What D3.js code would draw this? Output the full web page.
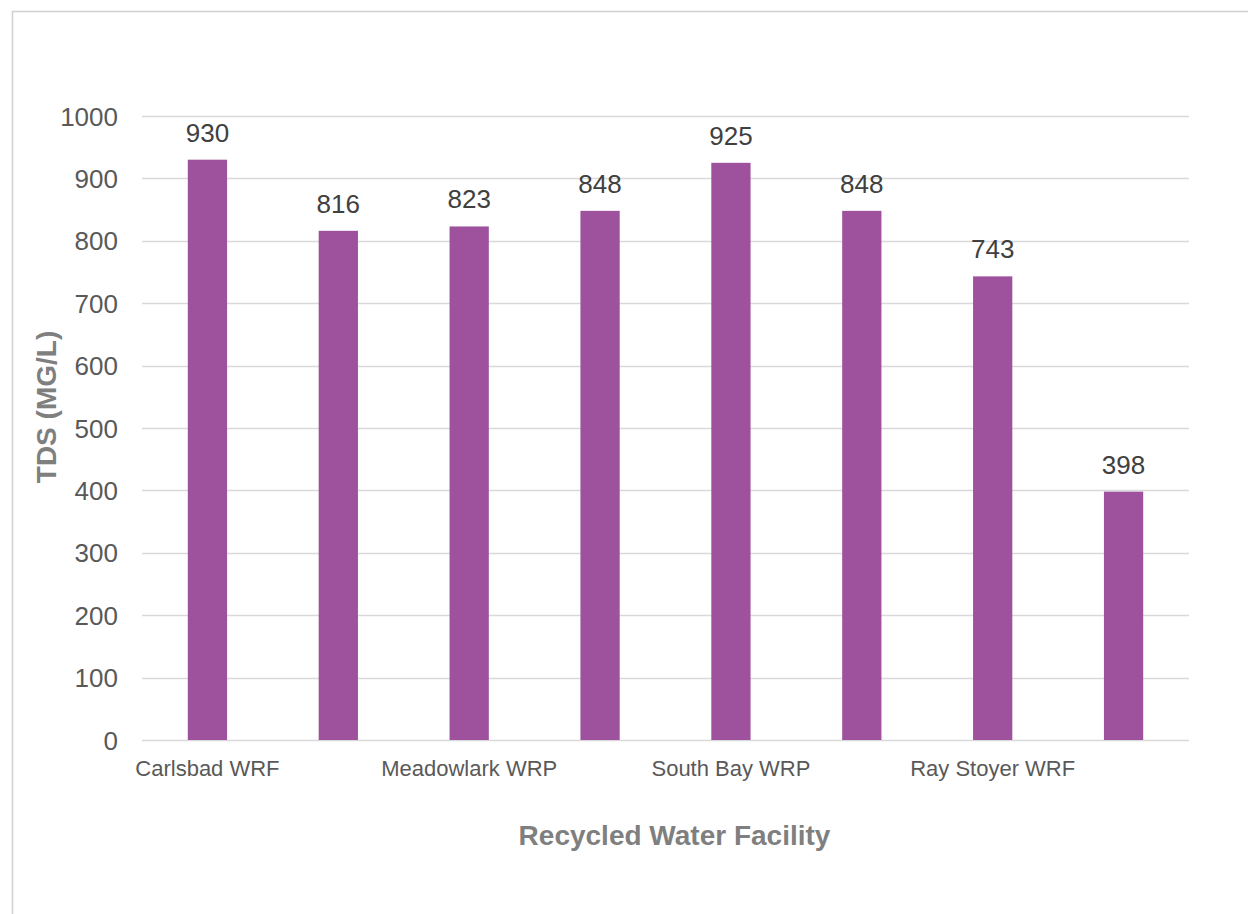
<!DOCTYPE html>
<html>
<head>
<meta charset="utf-8">
<script src="https://cdn.jsdelivr.net/npm/d3@7"></script>
<style>
  html, body { margin: 0; padding: 0; background: #ffffff; }
  svg { display: block; }
</style>
</head>
<body>
<svg id="chart" width="1248" height="914"></svg>
<script>
// Facility labels shown under every other bar; the alternate slots carry no label
const categories = ["Carlsbad WRF", "", "Meadowlark WRP", "", "South Bay WRP", "", "Ray Stoyer WRF", ""];
// Total dissolved solids, mg/L
const tdsValues = [930, 816, 823, 848, 925, 848, 743, 398];
const yTicks = [0, 100, 200, 300, 400, 500, 600, 700, 800, 900, 1000];
const yTitle = "TDS (MG/L)";
const xTitle = "Recycled Water Facility";

const svg = d3.select("#chart");
const font = "'Liberation Sans', Arial, Helvetica, sans-serif";

// chart frame
svg.append("path")
  .attr("d", "M12.5,914 V11.5 H1248")
  .attr("fill", "none")
  .attr("stroke", "#d0d0d0")
  .attr("stroke-width", 1.5);

const plot = { left: 142, right: 1189, top: 116, bottom: 740 };

const x = d3.scaleBand()
  .domain(d3.range(categories.length))
  .range([plot.left, plot.right])
  .paddingInner(0.7)
  .paddingOuter(0.35);

const y = d3.scaleLinear()
  .domain([0, 1000])
  .range([plot.bottom, plot.top]);

// gridlines
svg.append("g")
  .selectAll("line")
  .data(yTicks)
  .join("line")
  .attr("x1", plot.left)
  .attr("x2", plot.right)
  .attr("y1", d => Math.round(y(d)) + 0.5)
  .attr("y2", d => Math.round(y(d)) + 0.5)
  .attr("stroke", "#d9d9d9")
  .attr("stroke-width", 1.5);

// y tick labels
const yAxis = d3.axisLeft(y).tickValues(yTicks).tickFormat(d3.format("d")).tickSize(0).tickPadding(0);
const gy = svg.append("g")
  .attr("transform", `translate(118,0)`)
  .call(yAxis);
gy.select(".domain").remove();
gy.selectAll("text")
  .attr("font-family", font)
  .attr("font-size", 26)
  .attr("fill", "#595959")
  .attr("dy", "0.35em");

// bars
svg.append("g")
  .selectAll("rect")
  .data(tdsValues)
  .join("rect")
  .attr("x", (d, i) => x(i))
  .attr("width", x.bandwidth())
  .attr("y", d => y(d))
  .attr("height", d => y(0) - y(d))
  .attr("fill", "#9e529e");

// value labels
svg.append("g")
  .selectAll("text")
  .data(tdsValues)
  .join("text")
  .attr("x", (d, i) => x(i) + x.bandwidth() / 2)
  .attr("y", d => y(d) - 18)
  .attr("text-anchor", "middle")
  .attr("font-family", font)
  .attr("font-size", 26)
  .attr("fill", "#404040")
  .text(d => d);

// x category labels
const xAxis = d3.axisBottom(x).tickFormat(i => categories[i]).tickSize(0).tickPadding(0);
const gx = svg.append("g")
  .attr("transform", `translate(0,${plot.bottom})`)
  .call(xAxis);
gx.select(".domain").remove();
gx.selectAll("text")
  .attr("font-family", font)
  .attr("font-size", 22)
  .attr("fill", "#595959")
  .attr("dy", null)
  .attr("y", 36);

// axis titles
svg.append("text")
  .attr("x", (plot.left + plot.right) / 2 + 9)
  .attr("y", 845)
  .attr("text-anchor", "middle")
  .attr("font-family", font)
  .attr("font-size", 28)
  .attr("font-weight", "bold")
  .attr("fill", "#7f7f7f")
  .text(xTitle);

svg.append("text")
  .attr("transform", "translate(56,407) rotate(-90)")
  .attr("text-anchor", "middle")
  .attr("font-family", font)
  .attr("font-size", 28)
  .attr("font-weight", "bold")
  .attr("fill", "#7f7f7f")
  .text(yTitle);
</script>
</body>
</html>
